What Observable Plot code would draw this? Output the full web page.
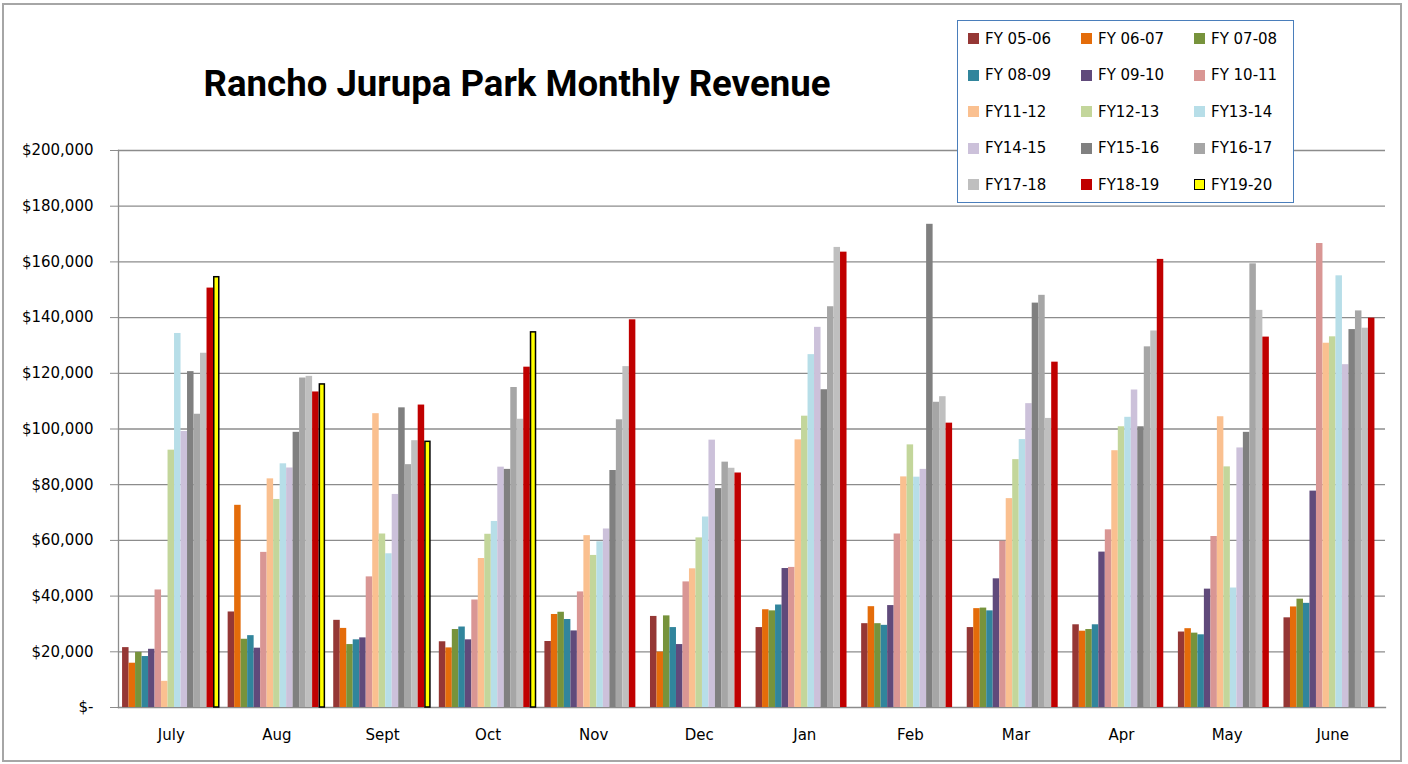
<!DOCTYPE html>
<html>
<head>
<meta charset="utf-8">
<script src="https://cdn.jsdelivr.net/npm/d3@7"></script>
<script src="https://cdn.jsdelivr.net/npm/@observablehq/plot@0.6"></script>
<style>
  html, body { margin: 0; padding: 0; background: #fff; }
  #wrap { position: relative; width: 1408px; height: 764px; overflow: hidden; background: #fff; }
  #border { position: absolute; left: 2px; top: 3px; width: 1396px; height: 755px; border: 2px solid #a6a6a6; }
  #title { position: absolute; left: 117px; width: 800px; top: 64px; text-align: center;
           font-family: Roboto, "Open Sans", sans-serif; font-weight: 700; font-size: 36.6px; line-height: 40px; color: #000; }
  .layer { position: absolute; left: 0; top: 0; }
  #legend { position: absolute; left: 957px; top: 20px; width: 335px; height: 181px; background: #fff;
            border: 1.5px solid #4a7ebb; font-family: "DejaVu Sans", sans-serif; font-size: 15px; color: #000; }
  .sw { position: absolute; width: 11px; height: 11px; box-sizing: border-box; }
  .lt { position: absolute; line-height: 18px; white-space: nowrap; }
</style>
</head>
<body>
<div id="wrap">
  <div id="border"></div>
  <div id="back" class="layer"></div>
  <div id="front" class="layer"></div>
  <div id="title">Rancho Jurupa Park Monthly Revenue</div>
  <div id="legend"></div>
</div>
<script>
const months = ["July","Aug","Sept","Oct","Nov","Dec","Jan","Feb","Mar","Apr","May","June"];
const fiscalYears = ["FY 05-06","FY 06-07","FY 07-08","FY 08-09","FY 09-10","FY 10-11","FY11-12","FY12-13","FY13-14","FY14-15","FY15-16","FY16-17","FY17-18","FY18-19","FY19-20"];
const colors = ["#953735","#e46c0a","#77933c","#31859c","#604a7b","#d99694","#fac090","#c3d69b","#b7dee8","#ccc1da","#808080","#a6a6a6","#bfbfbf","#c00000","#ffff00"];
const yTicks = [0,20000,40000,60000,80000,100000,120000,140000,160000,180000,200000];

const fy0506 = [21500, 34300, 31300, 23600, 23700, 32700, 28700, 30100, 28700, 29700, 27100, 32200];
const fy0607 = [15900, 72600, 28400, 21400, 33400, 19900, 35100, 36200, 35500, 27400, 28300, 36100];
const fy0708 = [19800, 24500, 22600, 28000, 34200, 32900, 34700, 30100, 35700, 28000, 26700, 38900];
const fy0809 = [18300, 25800, 24300, 28900, 31600, 28700, 36800, 29500, 34700, 29700, 26100, 37400];
const fy0910 = [20900, 21300, 25000, 24300, 27500, 22600, 49900, 36600, 46200, 55800, 42500, 77700];
const fy1011 = [42200, 55700, 46900, 38600, 41500, 45100, 50300, 62300, 59700, 63800, 61400, 166600];
const fy1112 = [9400, 82100, 105500, 53500, 61700, 49800, 96100, 82800, 75000, 92200, 104400, 130800];
const fy1213 = [92400, 74700, 62300, 62200, 54600, 60900, 104600, 94300, 89000, 100800, 86400, 133100];
const fy1314 = [134300, 87500, 55200, 66800, 59500, 68400, 126700, 82700, 96200, 104200, 42900, 155000];
const fy1415 = [99100, 86000, 76500, 86300, 64100, 96000, 136500, 85500, 109100, 114000, 93200, 123100];
const fy1516 = [120600, 98800, 107600, 85500, 85100, 78600, 114100, 173500, 145200, 100800, 98800, 135700];
const fy1617 = [105300, 118300, 87200, 114900, 103300, 88100, 143900, 109600, 148000, 129500, 159300, 142400];
const fy1718 = [127200, 118900, 95800, 103500, 122400, 85900, 165200, 111600, 103800, 135200, 142600, 136200];
const fy1819 = [150600, 113300, 108600, 122200, 139200, 84200, 163500, 102100, 124000, 160900, 133000, 139800];
const fy1920 = [154500, 116000, 95400, 134700, null, null, null, null, null, null, null, null];

const series = [fy0506, fy0607, fy0708, fy0809, fy0910, fy1011, fy1112, fy1213, fy1314, fy1415, fy1516, fy1617, fy1718, fy1819, fy1920];
const data = series.flatMap((vals, i) => vals.map((v, j) => ({fy: fiscalYears[i], month: months[j], value: v})))
  .filter(d => d.value != null);

const fmt = d => d === 0 ? "$-" : "$" + d3.format(",")(d);
const gridColor = "#8c8c8c";

const common = {
  width: 1408,
  height: 764,
  marginLeft: 118,
  marginRight: 23,
  marginTop: 150,
  marginBottom: 57,
  style: {fontFamily: "DejaVu Sans", fontSize: "15px", background: "transparent", color: "#000", overflow: "visible"},
  y: {domain: [0, 200000], axis: null}
};

// background: grid, y axis, axis lines
const back = Plot.plot({
  ...common,
  marks: [
    Plot.ruleY(yTicks.slice(1), {stroke: gridColor, strokeWidth: 1.3}),
    Plot.axisY(yTicks, {anchor: "left", tickSize: 8, tickPadding: 17, tickFormat: fmt, stroke: gridColor, fill: "#000", label: null}),
    Plot.frame({anchor: "left", stroke: gridColor, strokeWidth: 1.3}),
    Plot.frame({anchor: "bottom", stroke: gridColor, strokeWidth: 1.3})
  ]
});
document.getElementById("back").appendChild(back);

// foreground: clustered bars faceted by month
const front = Plot.plot({
  ...common,
  fx: {domain: months, paddingInner: 0.077, paddingOuter: 0.0385, round: false, label: null, axis: null},
  x: {domain: fiscalYears, paddingInner: 0, paddingOuter: 0, round: false, axis: null},
  color: {domain: fiscalYears, range: colors},
  marks: [
    Plot.barY(data.filter(d => d.fy !== "FY19-20"), {fx: "month", x: "fy", y: "value", fill: "fy"}),
    Plot.barY(data.filter(d => d.fy === "FY19-20"), {fx: "month", x: "fy", y: "value", fill: "fy", stroke: "#000", strokeWidth: 1.5, insetLeft: 0.75, insetRight: 0.75}),
    Plot.axisFx({anchor: "bottom", tickSize: 0, tickPadding: 22, label: null, fill: "#000"})
  ]
});
document.getElementById("front").appendChild(front);

// legend
const legend = document.getElementById("legend");
fiscalYears.forEach((fy, i) => {
  const row = Math.floor(i / 3), col = i % 3;
  const sw = document.createElement("div");
  sw.className = "sw";
  sw.style.left = (10 + col * 113) + "px";
  sw.style.top = (12 + row * 36.6) + "px";
  sw.style.background = colors[i];
  if (fy === "FY19-20") sw.style.border = "1.5px solid #000";
  legend.appendChild(sw);
  const t = document.createElement("div");
  t.className = "lt";
  t.style.left = (27 + col * 113) + "px";
  t.style.top = (8.5 + row * 36.6) + "px";
  t.textContent = fy;
  legend.appendChild(t);
});
</script>
</body>
</html>
